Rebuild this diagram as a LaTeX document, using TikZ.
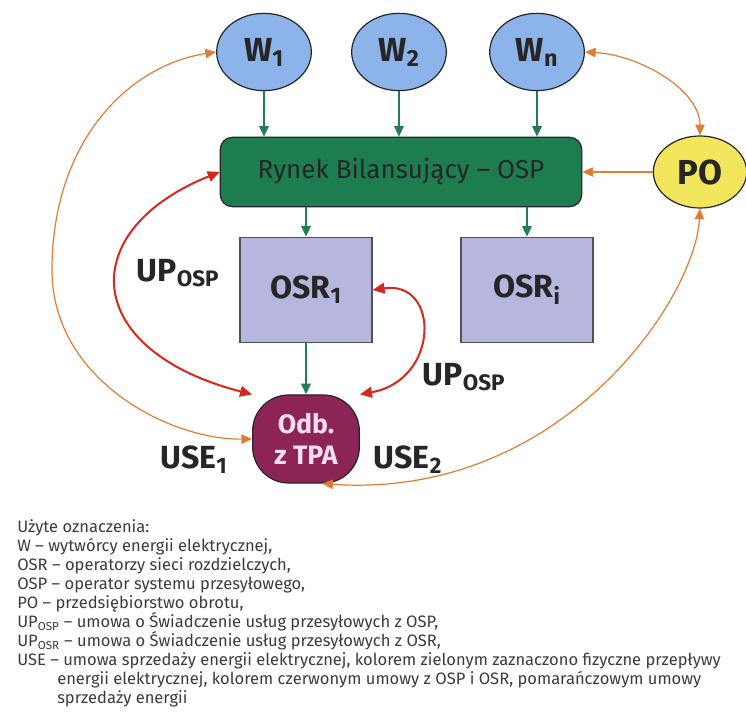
\documentclass[tikz,border=0pt]{standalone}
\usepackage{fontspec}
\setmainfont{Fira Sans}
\usetikzlibrary{arrows.meta,shapes.geometric}
\definecolor{wblue}{RGB}{140,180,235}
\definecolor{rbgreen}{RGB}{30,125,78}
\definecolor{osrlav}{RGB}{182,182,222}
\definecolor{odbplum}{RGB}{140,36,86}
\definecolor{odbtext}{RGB}{246,222,236}
\definecolor{poyellow}{RGB}{242,230,92}
\definecolor{flowgreen}{RGB}{32,128,82}
\definecolor{umred}{RGB}{214,40,30}
\definecolor{saleorange}{RGB}{226,124,52}
\definecolor{inkdark}{RGB}{38,38,38}
\definecolor{legendgray}{RGB}{60,60,60}

\begin{document}
\begin{tikzpicture}[x=0.75pt, y=-0.75pt,
    every node/.style={text=inkdark},
    wnode/.style={ellipse, draw=inkdark, line width=0.9pt, fill=wblue,
        minimum width=71pt, minimum height=58pt, inner sep=0pt,
        font=\fontsize{25}{27}\selectfont\bfseries},
    rbbox/.style={rectangle, rounded corners=9pt, draw=inkdark, line width=0.9pt,
        fill=rbgreen, minimum width=271pt, minimum height=52pt,
        font=\fontsize{19.5}{21}\selectfont\mdseries},
    osrbox/.style={rectangle, draw=inkdark!80, line width=0.9pt, fill=osrlav,
        minimum width=99pt, minimum height=79pt,
        font=\fontsize{24}{26}\selectfont\bfseries},
    odbbox/.style={rectangle, rounded corners=27pt, draw=inkdark, line width=0.9pt,
        fill=odbplum, text=odbtext, minimum width=80pt, minimum height=66pt,
        align=center, inner sep=0pt, font=\fontsize{20}{23}\selectfont\bfseries},
    ponode/.style={ellipse, draw=inkdark, line width=0.9pt, fill=poyellow,
        minimum width=70pt, minimum height=54pt, inner sep=0pt,
        font=\fontsize{26}{28}\selectfont\bfseries},
    lbl/.style={font=\fontsize{24}{26}\selectfont\bfseries},
    flow/.style={-{Triangle[length=8pt,width=7pt]}, flowgreen, line width=1.6pt},
    umowa/.style={{Triangle[length=9pt,width=8pt]}-{Triangle[length=9pt,width=8pt]},
        umred, line width=1.5pt},
    sprzedaz/.style={line width=0.9pt, saleorange}
]
    % White page, fixed to the size of the scan
    \path[use as bounding box, fill=white] (0,0) rectangle (746,716);

    % Producers and the balancing market
    \node[rbbox] (ryn) at (401,172) {Rynek Bilansujący – OSP};
    \foreach \name/\x/\sub in {w1/264/1, w2/399/2, wn/537/n} {
        \node[wnode] (\name) at (\x,52) {W\textsubscript{\sub}};
        \draw[flow] (\name) -- (\name |- ryn.north);
    }

    % Distribution operators and the customer
    \node[osrbox] (osr1) at (306,290) {OSR\textsubscript{1}};
    \node[osrbox] (osri) at (527,290) {OSR\textsubscript{i}};
    \node[odbbox] (odb) at (306,439) {Odb.\\z TPA};
    \node[ponode] (po) at (700,172) {PO};
    \draw[flow] (osr1 |- ryn.south) -- (osr1);
    \draw[flow] (osri |- ryn.south) -- (osri);
    \draw[flow] (osr1) -- (odb);

    % Contracts with OSP and OSR
    \draw[umowa] (ryn.west) .. controls (75,230) and (80,350) .. (odb.north west);
    \draw[umowa] (osr1.east) .. controls (440,280) and (440,380) .. (odb.north east);

    % Energy sales contracts
    \draw[sprzedaz, {Triangle[length=8pt,width=7pt]}-{Triangle[length=8pt,width=7pt]}]
        (w1.west) .. controls (130,65) and (52,140) .. (52,270)
        .. controls (52,380) and (170,440) .. (odb.west);
    \draw[sprzedaz, {Triangle[length=8pt,width=7pt]}-{Triangle[length=8pt,width=7pt]}]
        (wn.east) .. controls (640,55) and (700,90) .. (po.north);
    \draw[sprzedaz, {Triangle[length=8pt,width=7pt]}-{Triangle[length=8pt,width=7pt]}]
        (po.south) .. controls (695,300) and (560,500) .. (odb.-70);
    \draw[sprzedaz, -{Triangle[length=8pt,width=7pt]}] (po) -- (ryn);

    % Labels at the connectors
    \node[lbl] (upl) at (178,273) {UP\textsubscript{OSP}};
    \node[lbl] (upr) at (464,377) {UP\textsubscript{OSP}};
    \node[lbl] (use1) at (194,460) {USE\textsubscript{1}};
    \node[lbl] (use2) at (408,460) {USE\textsubscript{2}};

    % Legend
    \node[anchor=north west, inner sep=0pt, align=left, text=legendgray,
          font=\fontsize{12.4}{14.3}\selectfont] (legenda) at (17,519) {%
        Użyte oznaczenia:\\
        W – wytwórcy energii elektrycznej,\\
        OSR – operatorzy sieci rozdzielczych,\\
        OSP – operator systemu przesyłowego,\\
        PO – przedsiębiorstwo obrotu,\\
        UP\textsubscript{OSP} – umowa o Świadczenie usług przesyłowych z OSP,\\
        UP\textsubscript{OSR} – umowa o Świadczenie usług przesyłowych z OSR,\\
        USE – umowa sprzedaży energii elektrycznej, kolorem zielonym zaznaczono fizyczne przepływy\\
        \hspace*{30pt}energii elektrycznej, kolorem czerwonym umowy z OSP i OSR, pomarańczowym umowy\\
        \hspace*{30pt}sprzedaży energii};
\end{tikzpicture}
\end{document}
